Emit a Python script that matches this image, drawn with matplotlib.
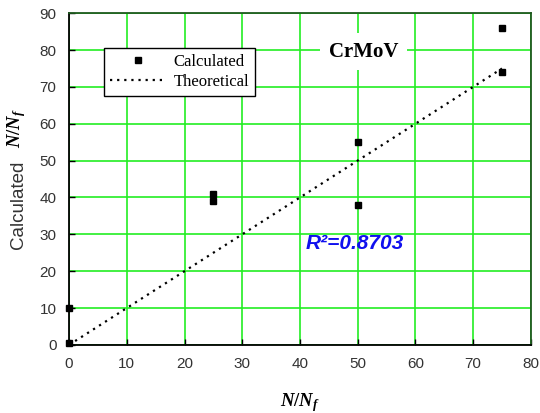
import matplotlib
matplotlib.use("Agg")
import matplotlib.pyplot as plt

plt.rcParams["mathtext.fontset"] = "custom"
plt.rcParams["mathtext.it"] = "Liberation Serif:bold:italic"
plt.rcParams["mathtext.rm"] = "Liberation Serif:bold"

# data
n_ratio = [0, 0, 25, 25, 50, 50, 75, 75]
calc_ratio = [0.5, 10, 41, 39, 55, 38, 86, 74]
theory_x = [0, 75]
theory_y = [0, 75]
x_ticks = list(range(0, 81, 10))
y_ticks = list(range(0, 91, 10))
r2_label = "R\u00b2=0.8703"
material = "CrMoV"

fig = plt.figure(figsize=(5.4, 4.13), dpi=100)
ax = fig.add_axes([0.128, 0.165, 0.855, 0.803])

ax.set_xlim(0, 80)
ax.set_ylim(0, 90)
ax.set_xticks(x_ticks)
ax.set_yticks(y_ticks)
ax.grid(True, color="#22ee22", linewidth=1.2)
ax.set_axisbelow(True)

for side in ["left", "bottom"]:
    ax.spines[side].set_color("black")
    ax.spines[side].set_linewidth(1.3)
for side in ["top", "right"]:
    ax.spines[side].set_color("#1f5a1f")
    ax.spines[side].set_linewidth(1.3)

ax.tick_params(direction="in", length=4, width=1, color="black",
               labelsize=11, labelcolor="#333333", pad=9)
for lab in ax.get_xticklabels() + ax.get_yticklabels():
    lab.set_family("Liberation Sans")

ax.plot(n_ratio, calc_ratio, linestyle="none", marker="s", markersize=5,
        color="black", label="Calculated", clip_on=False, zorder=5)
ax.plot(theory_x, theory_y, linestyle=(0, (1, 2.2)), linewidth=1.6,
        color="black", label="Theoretical", zorder=4)

ax.legend(loc="upper left", bbox_to_anchor=(0.076, 0.895), borderaxespad=0,
          frameon=True, fancybox=False, framealpha=1, edgecolor="black",
          prop={"family": "Liberation Serif", "size": 12},
          handlelength=3.3, handletextpad=0.5, borderpad=0.35,
          labelspacing=0.25)

ax.text(51.0, 79.6, material, ha="center", va="center", family="Liberation Serif",
        fontweight="bold", fontsize=15,
        bbox=dict(facecolor="white", edgecolor="none", pad=6))

ax.text(41, 27.6, r2_label, ha="left", va="center", family="Liberation Sans",
        fontweight="bold", fontstyle="italic", fontsize=15, color="#1010ee")

# axis titles: sans part and serif bold italic part
fig.text(0.034, (413 - 205) / 413, "Calculated", rotation=90, ha="center",
         va="center", family="Liberation Sans", fontsize=13.5, color="#333333")
fig.text(0.031, (413 - 128) / 413, "$N/N_f$", rotation=90, ha="center",
         va="center", fontsize=13.5)
fig.text(300 / 540, (413 - 403) / 413, "$N/N_f$", ha="center", va="center",
         fontsize=13.5)

fig.savefig("out.png", dpi=100)
